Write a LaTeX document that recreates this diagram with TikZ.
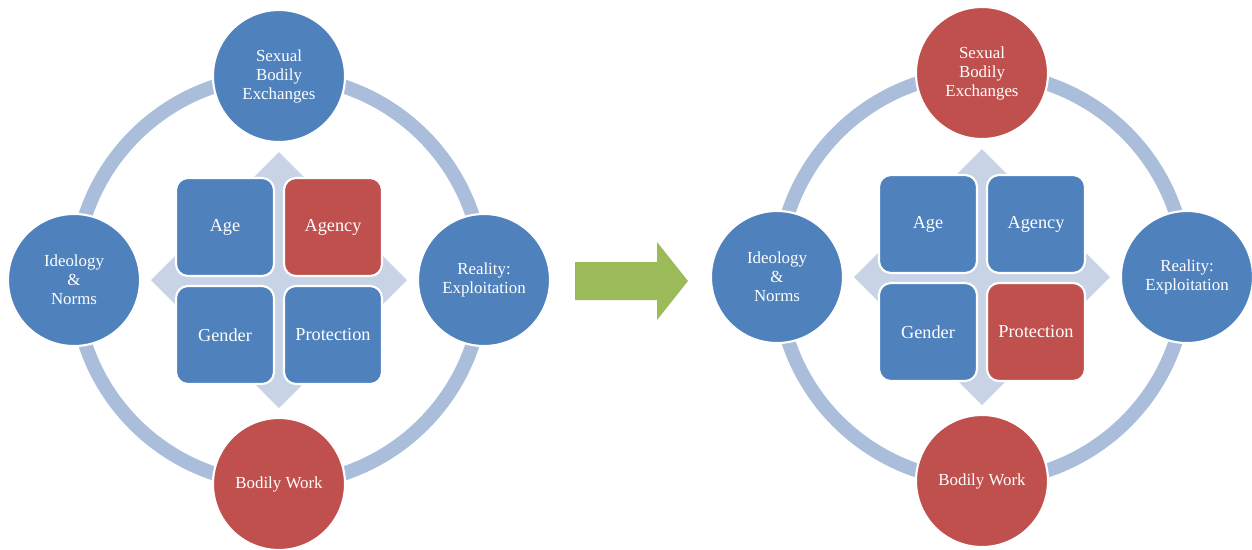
\documentclass[tikz,border=0pt]{standalone}
\usepackage{fontspec}
\setmainfont{Liberation Serif}
\definecolor{nodeblue}{RGB}{79,129,189}
\definecolor{nodered}{RGB}{192,80,77}
\definecolor{ringblue}{RGB}{170,190,220}
\definecolor{diamondgray}{RGB}{200,212,230}
\definecolor{arrowgreen}{RGB}{155,187,89}
\tikzset{
  bubble/.style={circle, draw=white, line width=1.5pt, minimum size=3.3cm, inner sep=0pt,
    align=center, text=white, font=\fontsize{12}{13.5}\selectfont},
  tile/.style={rectangle, rounded corners=0.3cm, draw=white, line width=1.5pt, minimum size=2.45cm,
    inner sep=0pt, align=center, text=white, font=\fontsize{13}{15}\selectfont},
}
\begin{document}
\begin{tikzpicture}[x=0.025cm,y=-0.025cm]
  \useasboundingbox (0,0) rectangle (1252,549);

  % one panel per pass: before (L) and after (R)
  \foreach \p/\cx/\cy/\ctop/\cag/\cpr in {L/279/280/nodeblue/nodered/nodeblue,
                                          R/982/277/nodered/nodeblue/nodered} {
    \draw[ringblue, line width=10pt] (\cx,\cy) circle (5.1cm);
    \fill[diamondgray] (\cx,\cy-128) -- (\cx+128,\cy) -- (\cx,\cy+128) -- (\cx-128,\cy) -- cycle;

    \node[tile, fill=nodeblue] (\p-age)  at (\cx-54,\cy-53) {Age};
    \node[tile, fill=\cag]     (\p-agency) at (\cx+54,\cy-53) {Agency};
    \node[tile, fill=nodeblue] (\p-gender) at (\cx-54,\cy+55) {Gender};
    \node[tile, fill=\cpr]     (\p-protect) at (\cx+54,\cy+55) {Protection};

    \node[bubble, fill=\ctop]    (\p-top)    at (\cx,\cy-204) {Sexual\\Bodily\\Exchanges};
    \node[bubble, fill=nodeblue] (\p-left)   at (\cx-205,\cy) {Ideology\\\&\\Norms};
    \node[bubble, fill=nodeblue] (\p-right)  at (\cx+205,\cy) {Reality:\\Exploitation};
    \node[bubble, fill=nodered]  (\p-bottom) at (\cx,\cy+204) {Bodily Work};
  }

  % block arrow between the panels
  \fill[arrowgreen] (575,262) -- (657,262) -- (657,242) -- (688,281) -- (657,320)
    -- (657,300) -- (575,300) -- cycle;
\end{tikzpicture}
\end{document}
